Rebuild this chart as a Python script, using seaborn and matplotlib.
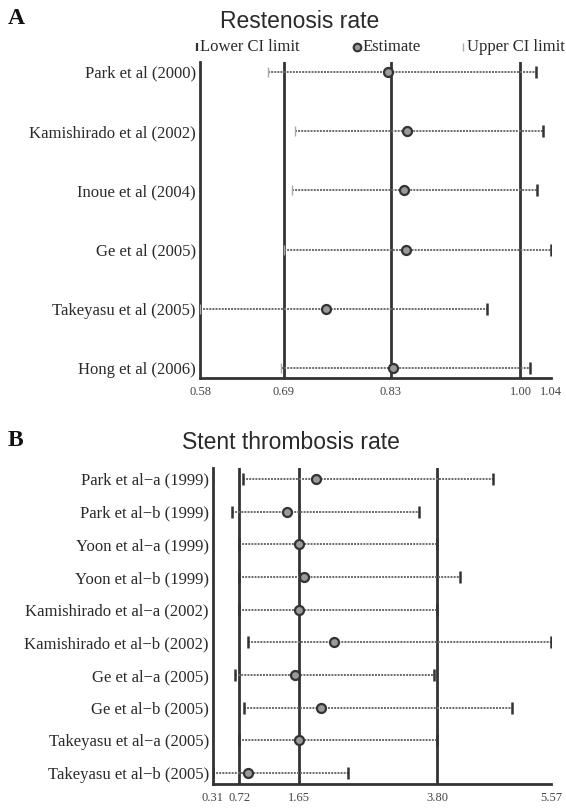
import numpy as np
import pandas as pd
import matplotlib
matplotlib.use("Agg")
import matplotlib.pyplot as plt
from matplotlib.lines import Line2D
import seaborn as sns

# ---------------- data ----------------
rest_studies = ["Park et al (2000)", "Kamishirado et al (2002)", "Inoue et al (2004)",
                "Ge et al (2005)", "Takeyasu et al (2005)", "Hong et al (2006)"]
rest_lower = [0.669, 0.704, 0.701, 0.690, 0.580, 0.686]
rest_est = [0.826, 0.851, 0.847, 0.850, 0.745, 0.833]
rest_upper = [1.020, 1.029, 1.022, 1.040, 0.956, 1.013]
rest_ticks = [0.58, 0.69, 0.83, 1.00, 1.04]
rest_refs = [0.69, 0.83, 1.00]

st_studies = ["Park et al\u2212a (1999)", "Park et al\u2212b (1999)", "Yoon et al\u2212a (1999)",
              "Yoon et al\u2212b (1999)", "Kamishirado et al\u2212a (2002)",
              "Kamishirado et al\u2212b (2002)", "Ge et al\u2212a (2005)", "Ge et al\u2212b (2005)",
              "Takeyasu et al\u2212a (2005)", "Takeyasu et al\u2212b (2005)"]
st_lower = [0.78, 0.60, 0.72, 0.72, 0.72, 0.86, 0.65, 0.79, 0.72, 0.31]
st_est = [1.92, 1.46, 1.65, 1.73, 1.65, 2.20, 1.58, 1.99, 1.65, 0.86]
st_upper = [4.67, 3.51, 3.80, 4.15, 3.80, 5.57, 3.75, 4.97, 3.80, 2.41]
st_ticks = [0.31, 0.72, 1.65, 3.80, 5.57]
st_refs = [0.72, 1.65, 3.80]

# ---------------- style ----------------
sns.set_style("white")
plt.rcParams["font.family"] = ["Liberation Serif", "DejaVu Serif"]

DARK = "#333333"
DOT = "#6a6a6a"

fig = plt.figure(figsize=(5.66, 8.10), dpi=100)
W, H = 566.0, 810.0


def ax_rect(x0, x1, y0, y1):
    return [x0 / W, 1 - y1 / H, (x1 - x0) / W, (y1 - y0) / H]


def forest(ax, studies, lower, est, upper, ticks, refs, light_lower):
    n = len(studies)
    df = pd.DataFrame({"study": studies, "pos": np.arange(n),
                       "lower": lower, "est": est, "upper": upper})
    ax.hlines(df["pos"], df["lower"], df["upper"], colors=DOT, lw=1.4,
              linestyles=(0, (1, 0.6)), zorder=2)
    if light_lower:
        ax.plot(df["lower"], df["pos"], ls="none", marker="|", ms=7, mew=1.0,
                color="#aaaaaa", zorder=3)
    else:
        ax.plot(df["lower"], df["pos"], ls="none", marker="|", ms=8, mew=1.8,
                color=DARK, zorder=3)
    ax.plot(df["upper"], df["pos"], ls="none", marker="|", ms=8, mew=1.8,
            color=DARK, zorder=3)
    for r in refs:
        ax.axvline(r, color=DARK, lw=2.0, zorder=1)
    sns.scatterplot(data=df, x="est", y="pos", ax=ax, s=42, color="#9a9a9a",
                    edgecolor=DARK, linewidth=1.6, zorder=5, legend=False)
    ax.set_xlim(ticks[0], ticks[-1])
    return df


def finish(ax, studies, ticks, margin):
    n = len(studies)
    ax.set_ylim(n - 1 + margin, -margin)
    ax.set_yticks(np.arange(n))
    ax.set_yticklabels(studies, fontsize=12, color="#2a2a2a")
    ax.set_xticks(ticks)
    ax.set_xticklabels([f"{t:.2f}" for t in ticks], fontsize=9, color="#444444")
    ax.set_xlabel("")
    ax.set_ylabel("")
    ax.tick_params(axis="y", length=0, pad=3)
    ax.tick_params(axis="x", direction="inout", length=8, width=1.6, color=DARK, pad=2)
    for s in ["top", "right"]:
        ax.spines[s].set_visible(False)
    for s in ["left", "bottom"]:
        ax.spines[s].set_color(DARK)
        ax.spines[s].set_linewidth(2.0)


# ---------------- panel A ----------------
axA = fig.add_axes(ax_rect(200, 551, 62, 378))
forest(axA, rest_studies, rest_lower, rest_est, rest_upper, rest_ticks, rest_refs, True)
finish(axA, rest_studies, rest_ticks, 0.165)

# ---------------- panel B ----------------
axB = fig.add_axes(ax_rect(213, 551, 468, 784))
forest(axB, st_studies, st_lower, st_est, st_upper, st_ticks, st_refs, False)
finish(axB, st_studies, st_ticks, 0.33)

# ---------------- titles / labels ----------------
fig.text(8 / W, 1 - 19 / H, "A", fontsize=17, fontweight="bold", ha="left", va="center",
         color="#111111")
fig.text(8 / W, 1 - 441 / H, "B", fontsize=17, fontweight="bold", ha="left", va="center",
         color="#111111")
fig.text(300 / W, 1 - 21 / H, "Restenosis rate", fontsize=16.5, ha="center", va="center",
         family=["Liberation Sans", "DejaVu Sans"], color="#2a2a2a")
fig.text(291 / W, 1 - 442 / H, "Stent thrombosis rate", fontsize=16.5, ha="center",
         va="center", family=["Liberation Sans", "DejaVu Sans"], color="#2a2a2a")

# legend of panel A
ly = 1 - 47 / H
fig.add_artist(Line2D([197 / W], [ly], transform=fig.transFigure, ls="none", marker="|",
                      ms=6, mew=1.6, color=DARK))
fig.text(200 / W, ly, "Lower CI limit", fontsize=12, ha="left", va="center", color="#2a2a2a")
fig.add_artist(Line2D([357 / W], [ly], transform=fig.transFigure, ls="none", marker="o",
                      ms=5.5, mfc="#9a9a9a", mec=DARK, mew=1.5))
fig.text(363 / W, ly, "Estimate", fontsize=12, ha="left", va="center", color="#2a2a2a")
fig.add_artist(Line2D([463 / W], [ly], transform=fig.transFigure, ls="none", marker="|",
                      ms=6, mew=1.0, color="#aaaaaa"))
fig.text(467 / W, ly, "Upper CI limit", fontsize=12, ha="left", va="center", color="#2a2a2a")

fig.savefig("out.png", dpi=100, facecolor="white")
